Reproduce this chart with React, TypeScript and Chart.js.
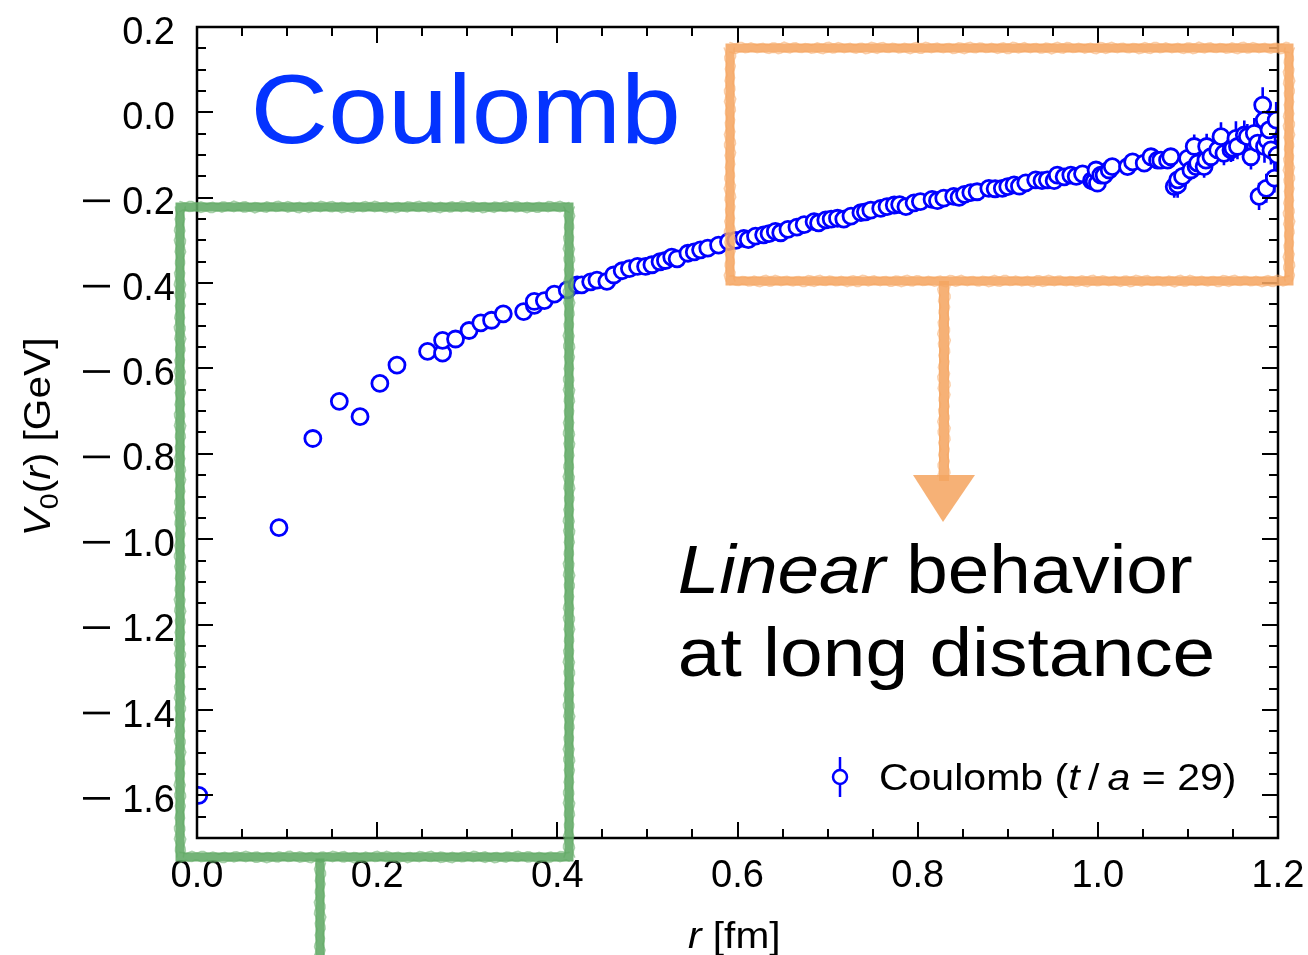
import React, { useEffect, useRef } from "react";
import { Chart, registerables } from "chart.js";

Chart.register(...registerables);

const FONT = "'Liberation Sans', Arial, Helvetica, sans-serif";
const BLUE = "#0000ff";
const TITLE_BLUE = "#0433ff";
const ORANGE = "#f5a663";
const GREEN = "#60a964";

// r [fm]
const rValues = [
  0.002, 0.091, 0.1286, 0.158, 0.181, 0.203, 0.222, 0.256, 0.2726, 0.2726,
  0.287, 0.302, 0.315, 0.327, 0.34, 0.3626, 0.3744, 0.3744, 0.3856, 0.3967,
  0.411, 0.422, 0.427, 0.437, 0.444, 0.455, 0.4626, 0.472, 0.48, 0.489,
  0.498, 0.505, 0.514, 0.52, 0.527, 0.533, 0.545, 0.552, 0.559, 0.567,
  0.579, 0.59, 0.598, 0.607, 0.612, 0.62, 0.629, 0.635, 0.642, 0.648,
  0.656, 0.666, 0.674, 0.685, 0.69, 0.698, 0.704, 0.711, 0.718, 0.726,
  0.737, 0.742, 0.748, 0.759, 0.766, 0.774, 0.78, 0.787, 0.796, 0.803,
  0.816, 0.822, 0.829, 0.84, 0.846, 0.852, 0.859, 0.866, 0.879, 0.886,
  0.894, 0.9, 0.907, 0.913, 0.92, 0.931, 0.938, 0.944, 0.9515, 0.955,
  0.9626, 0.97, 0.976, 0.983, 0.993, 0.9959, 0.998, 0.9996, 1.0033, 1.007,
  1.0126, 1.016, 1.033, 1.0386, 1.0515, 1.059, 1.0663, 1.07, 1.0774, 1.081,
  1.0848, 1.0886, 1.0886, 1.094, 1.0996, 1.1033, 1.107, 1.109, 1.1108, 1.118,
  1.12, 1.1208, 1.1256, 1.133, 1.1367, 1.14, 1.1478, 1.15, 1.1533, 1.155,
  1.1626, 1.166, 1.17, 1.1737, 1.1774, 1.179, 1.183, 1.1848, 1.185, 1.187,
  1.188, 1.19, 1.1922, 1.196, 1.198, 1.199,
];

// V0(r) [GeV]
const vValues = [
  -1.6, -0.973, -0.764, -0.677, -0.713, -0.635, -0.592, -0.56, -0.564, -0.534,
  -0.531, -0.511, -0.493, -0.487, -0.472, -0.467, -0.452, -0.443, -0.441, -0.426,
  -0.416, -0.404, -0.404, -0.397, -0.393, -0.396, -0.381, -0.371, -0.366, -0.361,
  -0.361, -0.357, -0.35, -0.347, -0.339, -0.343, -0.33, -0.327, -0.322, -0.318,
  -0.311, -0.303, -0.3, -0.295, -0.298, -0.29, -0.287, -0.284, -0.279, -0.282,
  -0.274, -0.269, -0.263, -0.256, -0.259, -0.252, -0.25, -0.248, -0.25, -0.243,
  -0.235, -0.233, -0.229, -0.225, -0.221, -0.217, -0.216, -0.221, -0.212, -0.209,
  -0.204, -0.207, -0.201, -0.197, -0.199, -0.192, -0.188, -0.186, -0.178, -0.179,
  -0.178, -0.174, -0.17, -0.173, -0.165, -0.158, -0.16, -0.158, -0.16, -0.147,
  -0.151, -0.147, -0.15, -0.144, -0.16, -0.162, -0.135, -0.166, -0.147, -0.147,
  -0.135, -0.127, -0.127, -0.116, -0.119, -0.104, -0.112, -0.112, -0.112, -0.104,
  -0.174, -0.17, -0.158, -0.15, -0.108, -0.135, -0.08, -0.127, -0.119, -0.127,
  -0.112, -0.08, -0.104, -0.088, -0.057, -0.096, -0.088, -0.084, -0.061, -0.08,
  -0.053, -0.057, -0.104, -0.049, -0.072, -0.197, 0.017, -0.018, -0.08, -0.178,
  -0.065, -0.041, -0.088, -0.154, -0.018, -0.1,
];

// statistical errors [GeV]
const vErrors = [
  0.002, 0.002, 0.002, 0.002, 0.002, 0.002, 0.002, 0.003, 0.003, 0.003,
  0.003, 0.003, 0.003, 0.003, 0.003, 0.003, 0.003, 0.003, 0.003, 0.004,
  0.004, 0.004, 0.004, 0.004, 0.004, 0.004, 0.004, 0.004, 0.004, 0.004,
  0.005, 0.005, 0.005, 0.005, 0.005, 0.005, 0.005, 0.005, 0.005, 0.005,
  0.005, 0.005, 0.006, 0.006, 0.006, 0.006, 0.006, 0.006, 0.006, 0.006,
  0.006, 0.006, 0.006, 0.006, 0.006, 0.006, 0.007, 0.007, 0.007, 0.007,
  0.007, 0.007, 0.007, 0.007, 0.007, 0.007, 0.007, 0.007, 0.008, 0.008,
  0.008, 0.008, 0.008, 0.008, 0.008, 0.008, 0.008, 0.008, 0.008, 0.009,
  0.009, 0.009, 0.009, 0.008, 0.01, 0.01, 0.01, 0.009, 0.012, 0.01,
  0.012, 0.012, 0.011, 0.012, 0.014, 0.014, 0.012, 0.015, 0.014, 0.014,
  0.015, 0.016, 0.015, 0.018, 0.016, 0.02, 0.018, 0.018, 0.02, 0.02,
  0.026, 0.03, 0.024, 0.022, 0.022, 0.024, 0.028, 0.024, 0.024, 0.026,
  0.025, 0.03, 0.026, 0.026, 0.034, 0.028, 0.028, 0.03, 0.04, 0.03,
  0.034, 0.03, 0.03, 0.036, 0.032, 0.032, 0.042, 0.035, 0.038, 0.034,
  0.036, 0.04, 0.034, 0.034, 0.042, 0.036,
];

const xTickValues = [0, 0.2, 0.4, 0.6, 0.8, 1.0, 1.2];
const xTickLabels = ["0.0", "0.2", "0.4", "0.6", "0.8", "1.0", "1.2"];
const yTickValues = [0.2, 0.0, -0.2, -0.4, -0.6, -0.8, -1.0, -1.2, -1.4, -1.6];
const yTickLabels = [
  "0.2", "0.0", "\u22120.2", "\u22120.4", "\u22120.6", "\u22120.8",
  "\u22121.0", "\u22121.2", "\u22121.4", "\u22121.6",
];
const X_MIN = 0;
const X_MAX = 1.2;
const Y_MIN = -1.7;
const Y_MAX = 0.2;
const MINOR_STEP = 0.05;

const legendSegs = [
  { t: "Coulomb (" },
  { t: "t", italic: true },
  { t: "\u2009/\u2009" },
  { t: "a", italic: true },
  { t: " = 29)" },
];
const xTitleSegs = [{ t: "r", italic: true }, { t: " [fm]" }];
const yTitleSegs = [
  { t: "V", italic: true },
  { t: "0", sub: true },
  { t: "(" },
  { t: "r", italic: true },
  { t: ")" },
  { t: " [GeV]" },
];
const line1Segs = [{ t: "Linear", italic: true }, { t: " behavior" }];
const line2Segs = [{ t: "at long distance" }];
const bigSegs = [{ t: "Coulomb" }];

type Seg = { t: string; italic?: boolean; sub?: boolean };

function fontFor(size: number, italic?: boolean) {
  return `${italic ? "italic " : ""}${size}px ${FONT}`;
}

function drawFitted(
  ctx: CanvasRenderingContext2D,
  segs: Seg[],
  size: number,
  left: number,
  right: number,
  baseline: number,
  color: string
) {
  let w = 0;
  const parts: any[] = [];
  for (const s of segs) {
    const sz = s.sub ? size * 0.7 : size;
    ctx.font = fontFor(sz, s.italic);
    const m = ctx.measureText(s.t);
    parts.push({ ...s, sz, x: w, abl: m.actualBoundingBoxLeft, abr: m.actualBoundingBoxRight });
    w += m.width;
  }
  const first = parts[0];
  const last = parts[parts.length - 1];
  const visL = -first.abl;
  const visR = last.x + last.abr;
  const sx = (right - left) / (visR - visL);
  ctx.save();
  ctx.translate(left - sx * visL, baseline);
  ctx.scale(sx, 1);
  ctx.fillStyle = color;
  ctx.textAlign = "left";
  ctx.textBaseline = "alphabetic";
  for (const p of parts) {
    ctx.font = fontFor(p.sz, p.italic);
    ctx.fillText(p.t, p.x, p.sub ? size * 0.22 : 0);
  }
  ctx.restore();
}

// chalk-like thick stroke with ragged edges (deterministic wobble)
function roughPath(
  ctx: CanvasRenderingContext2D,
  pts: number[][],
  color: string,
  width: number
) {
  ctx.save();
  ctx.strokeStyle = color;
  ctx.lineCap = "square";
  ctx.lineJoin = "miter";
  ctx.globalAlpha = 0.88;
  ctx.lineWidth = width - 2;
  ctx.beginPath();
  pts.forEach((p, i) => (i === 0 ? ctx.moveTo(p[0], p[1]) : ctx.lineTo(p[0], p[1])));
  ctx.stroke();
  ctx.globalAlpha = 0.55;
  ctx.lineWidth = 1.6;
  ctx.lineCap = "round";
  let k = 0;
  for (let s = 0; s < pts.length - 1; s++) {
    const [x1, y1] = pts[s];
    const [x2, y2] = pts[s + 1];
    const len = Math.hypot(x2 - x1, y2 - y1);
    const nx = -(y2 - y1) / len;
    const ny = (x2 - x1) / len;
    const steps = Math.max(2, Math.round(len / 3));
    for (const side of [-1, 1]) {
      ctx.beginPath();
      for (let i = 0; i <= steps; i++) {
        k++;
        const t = i / steps;
        const off =
          side * (width / 2 - 1.2 + 0.9 * Math.sin(k * 1.73) + 0.6 * Math.sin(k * 0.41));
        const x = x1 + (x2 - x1) * t + nx * off;
        const y = y1 + (y2 - y1) * t + ny * off;
        if (i === 0) ctx.moveTo(x, y);
        else ctx.lineTo(x, y);
      }
      ctx.stroke();
    }
  }
  ctx.restore();
}

const decorPlugin = {
  id: "decor",
  beforeDatasetsDraw(chart: any) {
    const ctx: CanvasRenderingContext2D = chart.ctx;
    const xs = chart.scales.x;
    const ys = chart.scales.y;
    const a = chart.chartArea;
    ctx.save();
    ctx.beginPath();
    ctx.rect(a.left, a.top, a.right - a.left, a.bottom - a.top);
    ctx.clip();
    ctx.strokeStyle = BLUE;
    ctx.lineWidth = 2.6;
    ctx.beginPath();
    rValues.forEach((r, i) => {
      const px = xs.getPixelForValue(r);
      ctx.moveTo(px, ys.getPixelForValue(vValues[i] - vErrors[i]));
      ctx.lineTo(px, ys.getPixelForValue(vValues[i] + vErrors[i]));
    });
    ctx.stroke();
    ctx.restore();
  },
  afterDatasetsDraw(chart: any) {
    const ctx: CanvasRenderingContext2D = chart.ctx;
    const xs = chart.scales.x;
    const ys = chart.scales.y;
    const a = chart.chartArea;
    const MAJ = 16;
    const MIN = 9;
    ctx.save();
    ctx.strokeStyle = "#000";
    ctx.lineWidth = 2;
    ctx.beginPath();
    const xMinor: number[] = [];
    for (let v = X_MIN; v <= X_MAX + 1e-9; v += MINOR_STEP) xMinor.push(v);
    const yMinor: number[] = [];
    for (let v = Y_MIN; v <= Y_MAX + 1e-9; v += MINOR_STEP) yMinor.push(v);
    const drawX = (v: number, len: number) => {
      const px = Math.round(xs.getPixelForValue(v));
      ctx.moveTo(px, a.bottom);
      ctx.lineTo(px, a.bottom - len);
      ctx.moveTo(px, a.top);
      ctx.lineTo(px, a.top + len);
    };
    const drawY = (v: number, len: number) => {
      const py = Math.round(ys.getPixelForValue(v));
      ctx.moveTo(a.left, py);
      ctx.lineTo(a.left + len, py);
      ctx.moveTo(a.right, py);
      ctx.lineTo(a.right - len, py);
    };
    xMinor.forEach((v) => drawX(v, MIN));
    xTickValues.forEach((v) => drawX(v, MAJ));
    yMinor.forEach((v) => drawY(v, MIN));
    yTickValues.forEach((v) => drawY(v, MAJ));
    ctx.stroke();
    ctx.lineWidth = 2.5;
    ctx.strokeRect(a.left, a.top, a.right - a.left, a.bottom - a.top);

    // y tick labels (wide matplotlib-style minus sign)
    ctx.fillStyle = "#000";
    ctx.font = `38px ${FONT}`;
    ctx.textAlign = "right";
    ctx.textBaseline = "alphabetic";
    yTickValues.forEach((v, i) => {
      const py = ys.getPixelForValue(v) + 3;
      let label = yTickLabels[i];
      const neg = label.startsWith("\u2212");
      if (neg) label = label.slice(1);
      ctx.fillText(label, 175, py + 13.6);
      if (neg) ctx.fillRect(83, py - 1.3, 27, 2.7);
    });
    ctx.restore();
  },
  afterDraw(chart: any) {
    const ctx: CanvasRenderingContext2D = chart.ctx;
    // big label
    drawFitted(ctx, bigSegs, 98, 255, 677, 143, TITLE_BLUE);
    // annotation text
    drawFitted(ctx, line1Segs, 68, 680, 1192, 593, "#000");
    drawFitted(ctx, line2Segs, 68, 680, 1212, 676, "#000");
    // legend
    ctx.save();
    ctx.strokeStyle = BLUE;
    ctx.lineWidth = 2.5;
    ctx.beginPath();
    ctx.moveTo(840, 757);
    ctx.lineTo(840, 797);
    ctx.stroke();
    ctx.beginPath();
    ctx.arc(840, 777, 7, 0, Math.PI * 2);
    ctx.fillStyle = "#fff";
    ctx.fill();
    ctx.stroke();
    ctx.restore();
    drawFitted(ctx, legendSegs, 37, 880, 1235, 790, "#000");
    // axis titles
    drawFitted(ctx, xTitleSegs, 37, 688, 778, 948, "#000");
    ctx.save();
    ctx.translate(50, 533);
    ctx.rotate(-Math.PI / 2);
    drawFitted(ctx, yTitleSegs, 37, 0, 193, 0, "#000");
    ctx.restore();
    // orange box + arrow
    roughPath(ctx, [[730, 48], [1289, 48], [1289, 281], [730, 281], [730, 48]], ORANGE, 11);
    roughPath(ctx, [[944, 286], [944, 476]], ORANGE, 12);
    ctx.save();
    ctx.globalAlpha = 0.88;
    ctx.fillStyle = ORANGE;
    ctx.beginPath();
    ctx.moveTo(913, 475);
    ctx.lineTo(975, 475);
    ctx.lineTo(943, 522);
    ctx.closePath();
    ctx.fill();
    ctx.restore();
    // green box + line
    roughPath(ctx, [[180, 207], [569, 207], [569, 857], [180, 857], [180, 207]], GREEN, 11);
    roughPath(ctx, [[320, 863], [320, 962]], GREEN, 11);
  },
};

export default function App() {
  const ref = useRef<HTMLCanvasElement | null>(null);
  useEffect(() => {
    if (!ref.current) return;
    const chart = new Chart(ref.current, {
      type: "scatter",
      data: {
        datasets: [
          {
            label: "Coulomb (t/a = 29)",
            data: rValues.map((r, i) => ({ x: r, y: vValues[i] })),
            showLine: false,
            pointRadius: 8,
            pointHoverRadius: 8,
            pointBorderWidth: 2.8,
            pointBackgroundColor: "#ffffff",
            pointBorderColor: BLUE,
          },
        ],
      },
      options: {
        responsive: false,
        animation: false,
        devicePixelRatio: 1,
        events: [],
        layout: { padding: { top: 27, right: 30, left: 0, bottom: 0 } },
        plugins: { legend: { display: false }, tooltip: { enabled: false } },
        scales: {
          x: {
            type: "linear",
            min: X_MIN,
            max: X_MAX,
            grid: { display: false, drawTicks: false },
            border: { display: false },
            afterBuildTicks: (s: any) => {
              s.ticks = xTickValues.map((v) => ({ value: v }));
            },
            afterFit: (s: any) => {
              s.height = 117;
              s.paddingLeft = 0;
              s.paddingRight = 0;
            },
            ticks: {
              autoSkip: false,
              maxRotation: 0,
              padding: 16,
              color: "#000",
              font: { size: 38, family: FONT },
              callback: (_v: any, i: number) => xTickLabels[i],
            },
          },
          y: {
            type: "linear",
            min: Y_MIN,
            max: Y_MAX,
            grid: { display: false, drawTicks: false },
            border: { display: false },
            afterBuildTicks: (s: any) => {
              s.ticks = yTickValues.map((v) => ({ value: v }));
            },
            afterFit: (s: any) => {
              s.width = 197;
              s.paddingTop = 0;
              s.paddingBottom = 0;
            },
            ticks: { display: false },
          },
        },
      },
      plugins: [decorPlugin],
    } as any);
    return () => chart.destroy();
  }, []);
  return (
    <div style={{ position: "absolute", left: 0, top: 0, width: 1308, height: 955, background: "#fff" }}>
      <canvas ref={ref} width={1308} height={955} style={{ display: "block" }} />
    </div>
  );
}
